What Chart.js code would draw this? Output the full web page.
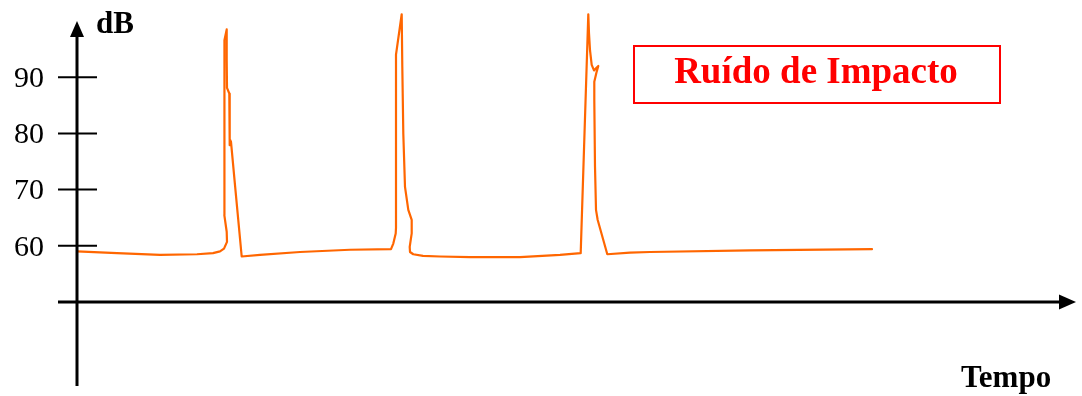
<!DOCTYPE html>
<html>
<head>
<meta charset="utf-8">
<title>Ruído de Impacto</title>
<script src="https://cdn.jsdelivr.net/npm/chart.js@4/dist/chart.umd.min.js"></script>
<style>
  html, body { margin: 0; padding: 0; background: #fff; }
  #wrap { width: 1082px; height: 396px; position: relative; }
</style>
</head>
<body>
<div id="wrap"><canvas id="chart"></canvas></div>
<script>
// time (arbitrary units) and level in dB
const tempo = [0, 40, 83, 120, 136, 143, 147, 150, 149.7, 147.3, 147.3, 147.3, 147.7, 149.7, 149.7, 150, 152.3, 152.7, 153.3, 154, 158, 164.7,
  183, 223, 273, 314, 316.3, 318.7, 319, 319, 324.7, 325.3, 326.3, 328, 331.3, 334.7, 334.7, 332.7, 333, 336.3, 346, 363,
  393, 443, 483, 503.7, 511.3, 512, 513, 514.7, 517, 519, 521.3, 519.7, 517.3, 517.3, 518, 519, 520.7, 530.3,
  553, 573, 673, 795];
const nivelDb = [59.0, 58.7, 58.4, 58.5, 58.7, 59.0, 59.5, 60.7, 62.5, 65.5, 77.0, 89.5, 96.6, 98.5, 93.1, 88.1, 87.1, 77.9, 78.8, 78.5, 70.8, 58.1,
  58.4, 58.9, 59.3, 59.4, 60.4, 62.2, 63.2, 94.0, 101.2, 91.9, 80.0, 70.5, 66.4, 64.6, 62.2, 59.8, 58.9, 58.5, 58.2, 58.1,
  58.0, 58.0, 58.4, 58.7, 101.2, 97.8, 94.8, 92.2, 91.2, 91.6, 92.0, 91.0, 89.2, 85.9, 74.1, 66.4, 64.6, 58.5,
  58.8, 58.9, 59.2, 59.4];
const yTicks = [60, 70, 80, 90];
const titulo = 'Ruído de Impacto';
const eixoY = 'dB';
const eixoX = 'Tempo';

const serif = "'Liberation Serif', 'Times New Roman', serif";

// axes with arrows, crossing ticks and the boxed title
const axesPlugin = {
  id: 'axes',
  afterDatasetsDraw(chart) {
    const { ctx } = chart;
    const x = chart.scales.x, y = chart.scales.y;
    const x0 = x.getPixelForValue(0);
    const y0 = y.getPixelForValue(50);
    ctx.save();
    ctx.strokeStyle = '#000';
    ctx.fillStyle = '#000';

    // vertical axis
    ctx.lineWidth = 3;
    ctx.beginPath();
    ctx.moveTo(x0, 386);
    ctx.lineTo(x0, 34);
    ctx.stroke();
    ctx.beginPath();
    ctx.moveTo(x0, 21);
    ctx.lineTo(x0 - 7, 37);
    ctx.lineTo(x0 + 7, 37);
    ctx.closePath();
    ctx.fill();

    // horizontal axis
    ctx.beginPath();
    ctx.moveTo(58, y0);
    ctx.lineTo(1062, y0);
    ctx.stroke();
    ctx.beginPath();
    ctx.moveTo(1076, y0);
    ctx.lineTo(1059, y0 - 7.5);
    ctx.lineTo(1059, y0 + 7.5);
    ctx.closePath();
    ctx.fill();

    // ticks + labels
    ctx.lineWidth = 2;
    ctx.font = '30px ' + serif;
    ctx.textAlign = 'right';
    ctx.textBaseline = 'middle';
    yTicks.forEach(v => {
      const py = y.getPixelForValue(v);
      ctx.beginPath();
      ctx.moveTo(x0 - 19, py);
      ctx.lineTo(x0 + 20, py);
      ctx.stroke();
      ctx.fillText(String(v), 44, py + 2);
    });

    // axis names
    ctx.font = 'bold 31px ' + serif;
    ctx.textAlign = 'left';
    ctx.textBaseline = 'alphabetic';
    ctx.fillText(eixoY, 96, 33);
    ctx.fillText(eixoX, 961, 387);

    // boxed title
    ctx.strokeStyle = '#ff0000';
    ctx.fillStyle = '#ff0000';
    ctx.lineWidth = 2;
    ctx.strokeRect(634, 46, 366, 57);
    ctx.font = 'bold 37px ' + serif;
    ctx.textAlign = 'center';
    ctx.fillText(titulo, 816, 83);
    ctx.restore();
  }
};

new Chart(document.getElementById('chart'), {
  type: 'line',
  data: {
    datasets: [{
      data: tempo.map((t, i) => ({ x: t, y: nivelDb[i] })),
      borderColor: 'rgb(255, 102, 0)',
      borderWidth: 2.2,
      borderJoinStyle: 'round',
      borderCapStyle: 'round',
      pointRadius: 0,
      tension: 0,
      fill: false,
      clip: false
    }]
  },
  options: {
    responsive: true,
    maintainAspectRatio: false,
    animation: false,
    layout: { padding: { left: 77, right: 5, top: 21, bottom: 94 } },
    plugins: { legend: { display: false }, tooltip: { enabled: false } },
    scales: {
      x: { type: 'linear', min: 0, max: 1000, display: false },
      y: { type: 'linear', min: 50, max: 100, display: false }
    }
  },
  plugins: [axesPlugin]
});
</script>
</body>
</html>
